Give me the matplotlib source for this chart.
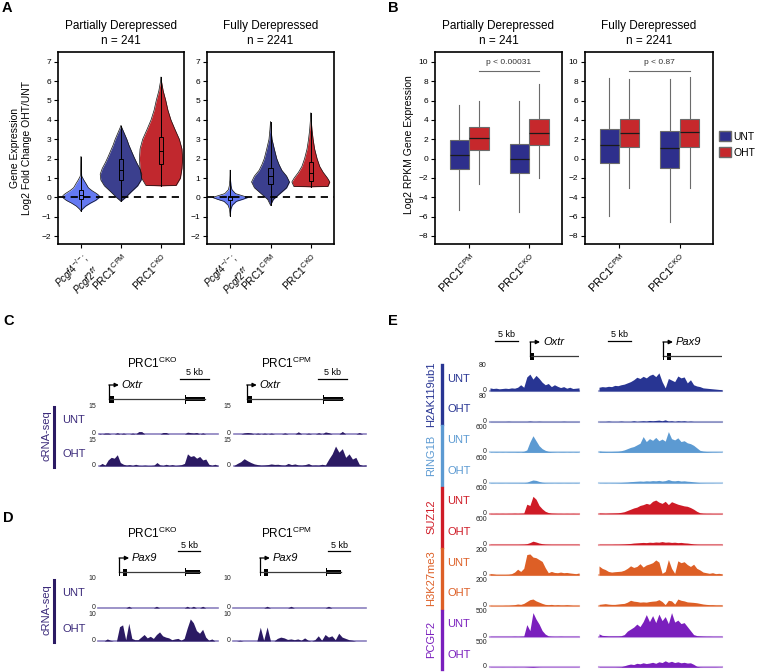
import numpy as np
import matplotlib
matplotlib.use("Agg")
import matplotlib.pyplot as plt
from matplotlib.patches import Rectangle, Patch

plt.rcParams["font.family"] = ["Liberation Sans", "DejaVu Sans"]
plt.rcParams["mathtext.fontset"] = "custom"
plt.rcParams["mathtext.rm"] = "Liberation Sans"
plt.rcParams["mathtext.it"] = "Liberation Sans:italic"
plt.rcParams["mathtext.default"] = "regular"

W, H = 757, 672

# --------------------------------------------------------------------------- #
# Panel A: violin profiles (y level, relative half width) and box stats
# --------------------------------------------------------------------------- #
A_LABELS = [r"$\it{Pcgf4}^{\it{-/-}}$;" + "\n" + r"$\it{Pcgf2}^{\it{f/f}}$", r"PRC1$^{CPM}$", r"PRC1$^{CKO}$"]
A_COLORS = ["#6479f2", "#3b3f8e", "#c1282e"]

PART_Y = [
    [-0.7, -0.6, -0.45, -0.3, -0.15, 0.0, 0.1, 0.2, 0.35, 0.5, 0.7, 0.9, 1.1, 1.4, 1.7, 2.1],
    [-0.2, 0.0, 0.3, 0.6, 0.9, 1.2, 1.5, 1.8, 2.1, 2.4, 2.7, 3.0, 3.3, 3.5, 3.7],
    [0.6, 0.62, 1.0, 1.5, 2.0, 2.5, 3.0, 3.5, 4.0, 4.5, 5.0, 5.5, 6.0, 6.2],
]
PART_W = [
    [0.0, 0.08, 0.25, 0.5, 0.8, 1.0, 0.98, 0.85, 0.6, 0.4, 0.28, 0.15, 0.04, 0.02, 0.015, 0.0],
    [0.0, 0.22, 0.5, 0.8, 0.97, 1.0, 0.9, 0.75, 0.62, 0.5, 0.38, 0.28, 0.16, 0.08, 0.0],
    [0.0, 0.7, 0.9, 0.97, 1.0, 0.97, 0.85, 0.65, 0.46, 0.32, 0.22, 0.1, 0.02, 0.0],
]
PART_MAXW = [0.46, 0.52, 0.54]
PART_BOX = [(-0.08, 0.12, 0.4), (0.9, 1.43, 1.98), (1.72, 2.41, 3.14)]

FULL_Y = [
    [-0.95, -0.6, -0.4, -0.2, -0.1, 0.0, 0.1, 0.2, 0.4, 0.6, 0.9, 1.4],
    [-0.4, -0.1, 0.2, 0.5, 0.8, 1.1, 1.4, 1.7, 2.0, 2.5, 3.0, 3.5, 3.9],
    [0.55, 0.57, 0.8, 1.0, 1.3, 1.6, 2.0, 2.5, 3.0, 3.5, 4.0, 4.35],
]
FULL_W = [
    [0.0, 0.04, 0.12, 0.35, 0.7, 1.0, 0.65, 0.3, 0.1, 0.05, 0.02, 0.0],
    [0.0, 0.15, 0.5, 0.85, 1.0, 0.85, 0.6, 0.45, 0.33, 0.2, 0.08, 0.03, 0.0],
    [0.0, 0.9, 1.0, 0.88, 0.65, 0.47, 0.33, 0.2, 0.12, 0.06, 0.02, 0.0],
]
FULL_MAXW = [0.44, 0.47, 0.47]
FULL_BOX = [(-0.14, 0.0, 0.09), (0.69, 1.1, 1.52), (0.86, 1.28, 1.84)]

# --------------------------------------------------------------------------- #
# Panel B: box stats (whislo, q1, median, q3, whishi) per category
# --------------------------------------------------------------------------- #
B_LABELS = [r"PRC1$^{CPM}$", r"PRC1$^{CKO}$"]
B_PART_UNT = [(-5.3, -1.1, 0.4, 1.9, 5.5), (-5.5, -1.5, -0.05, 1.5, 6.0)]
B_PART_OHT = [(-2.6, 0.85, 2.1, 3.25, 6.0), (-2.0, 1.45, 2.7, 4.05, 7.7)]
B_FULL_UNT = [(-5.9, -0.5, 1.45, 3.1, 8.35), (-6.6, -0.95, 1.1, 2.85, 8.25)]
B_FULL_OHT = [(-3.05, 1.2, 2.7, 4.1, 8.2), (-3.05, 1.2, 2.75, 4.1, 8.4)]
B_PVALS = ["p < 0.00031", "p < 0.87"]
UNT_COLOR, OHT_COLOR = "#2e2f8c", "#c6282c"

TITLES = ["Partially Derepressed\nn = 241", "Fully Derepressed\nn = 2241"]

# --------------------------------------------------------------------------- #
# Gene structures (kb from TSS): (start, end, drawn height)
# --------------------------------------------------------------------------- #
OXTR_EXONS = [(0.0, 0.9, 7), (13.1, 13.25, 9), (13.1, 16.6, 4)]
OXTR_LEN = 16.6
PAX9_EXONS = [(0.0, 0.2, 8), (0.9, 1.8, 7), (4.7, 4.85, 7), (15.0, 15.15, 8), (15.0, 18.4, 4)]
PAX9_LEN = 18.4

# --------------------------------------------------------------------------- #
# Panels C / D: cRNA-seq coverage
# --------------------------------------------------------------------------- #
CRNA_COLOR, CRNA_BASE = "#2b1a63", "#8b80bf"

C_UNT_CKO = [0.4, 0, 0.5, 0.5, 0, 0, 0.7, 0, 0.5, 0, 0, 0.5, 0, 1.3, 1.3, 0, 0, 0, 0, 0,
             0, 0.8, 0.8, 0, 0, 0, 0, 0, 0, 1.0, 0.7, 0.5, 0.8, 0, 0.6, 0, 0, 0, 0, 0]
C_OHT_CKO = [0.3, 1.5, 0.5, 3.5, 5, 4.5, 6.5, 2, 1, 0.5, 0.8, 0.3, 1.0, 0.4, 0.3, 0.5, 0.3, 0.3, 0.5, 2,
             0.6, 0.3, 1, 0.4, 0.8, 0.3, 0.5, 0.8, 1.5, 7, 5.5, 6, 4.5, 5.5, 3.5, 4, 1, 0.4, 1, 0.3]
C_UNT_CPM = [0, 0, 0, 0.6, 0.8, 0.6, 0, 0.5, 0, 0.5, 0, 0.5, 0, 0, 0, 0.6, 0, 0, 0, 1.2,
             0, 0, 0.5, 0, 0, 0.7, 0, 1.1, 0.7, 0, 0, 0, 1.4, 0, 0, 0, 0, 0.8, 0, 0]
C_OHT_CPM = [0.3, 1.5, 2.5, 4.2, 3, 2, 1.2, 0.8, 0.5, 0.6, 0.8, 1.2, 0.9, 1.0, 0.6, 0.5, 1.5, 0.8, 1.2, 0.6,
             0.5, 0.8, 1.4, 0.5, 0.6, 0.5, 1.0, 0.6, 4, 7, 11.5, 8, 10, 5, 7, 4, 5, 1, 0.4, 0.6]

D_UNT_CKO = [0, 0, 0, 0, 0, 0, 0, 0, 0, 0, 0.6, 0, 0, 0, 0, 0, 0, 0, 0, 0.6,
             0, 0, 0, 0, 0, 0, 0, 0, 0, 0.6, 0, 0.6, 0, 0, 0.6, 0, 0, 0, 0, 0]
D_OHT_CKO = [0, 0, 0, 0.8, 0.3, 0, 0, 5.5, 6.2, 0.5, 6.8, 1, 0.5, 0.5, 1.5, 2.5, 1.2, 1.8, 1, 2.5,
             3.5, 2, 1.5, 1.2, 0.5, 0.8, 1, 0.3, 1, 5, 8.5, 7, 4, 3, 4.5, 1.5, 0.3, 0.8, 0, 0]
D_UNT_CPM = [0, 0, 0, 0, 0, 0, 0, 0, 0, 0, 0.6, 0, 0, 0, 0, 0, 0, 0.6, 0, 0,
             0, 0, 0, 0, 0, 0, 0, 0, 0.6, 0, 0, 0, 0, 0, 0, 0, 0, 0, 0, 0]
D_OHT_CPM = [0, 0, 0.3, 0, 0, 0, 0, 0, 5.3, 0.3, 5.4, 0, 0, 1, 1.5, 1.2, 0.6, 0.8, 0.5, 0.8,
             0.3, 1.2, 0.3, 0, 0.5, 2, 0.3, 2.5, 1.5, 2, 0.5, 3, 1.5, 1, 0.5, 0.3, 0, 0, 0, 0]

# --------------------------------------------------------------------------- #
# Panel E: ChIP-seq coverage at Oxtr (30 bins) and Pax9 (40 bins)
# --------------------------------------------------------------------------- #
E_MARKS = ["H2AK119ub1", "RING1B", "SUZ12", "H3K27me3", "PCGF2"]
E_SCALES = [80, 600, 600, 200, 500]
E_COLORS = ["#283593", "#5c9ad2", "#cf1b26", "#dd5f26", "#7a1fbd"]

H2A_UNT_OXTR = [10, 8, 9, 7, 8, 9, 8, 10, 9, 12, 20, 12, 45, 54, 38, 50, 40, 28, 20, 24,
                14, 20, 15, 11, 14, 9, 12, 8, 9, 10]
H2A_UNT_PAX9 = [12, 14, 13, 15, 14, 18, 17, 20, 22, 26, 30, 36, 44, 40, 47, 42, 50, 54, 46, 58,
                30, 10, 40, 35, 30, 48, 42, 45, 26, 36, 20, 16, 14, 10, 9, 8, 7, 6, 5, 4]
H2A_OHT_OXTR = [1, 1, 1, 1, 1, 1, 1.5, 1, 1, 1, 1, 1, 1, 2, 1, 1, 1.5, 1, 1, 1,
                1, 1, 1, 1, 1.5, 1, 1, 1, 1, 1]
H2A_OHT_PAX9 = [1, 1, 1, 2, 1, 1, 1, 2, 1, 1, 1, 3, 1, 2, 3, 2, 4, 3, 4, 5,
                3, 6, 2, 3, 1, 3, 2, 3, 1, 2, 1, 1, 1, 1, 1, 1, 1, 1, 1, 1]

RING_UNT_OXTR = [15, 12, 15, 12, 15, 12, 15, 15, 15, 18, 15, 25, 60, 250, 400, 280, 160, 90, 50, 25,
                 18, 15, 12, 15, 15, 12, 15, 12, 15, 12]
RING_UNT_PAX9 = [35, 25, 22, 20, 22, 25, 28, 40, 60, 90, 120, 140, 180, 220, 380, 260, 330, 290, 360, 280,
                 320, 270, 500, 330, 300, 350, 260, 280, 230, 210, 170, 110, 50, 30, 22, 18, 15, 15, 12, 12]
RING_OHT_OXTR = [10, 10, 8, 10, 10, 8, 10, 10, 10, 10, 12, 12, 20, 50, 75, 65, 40, 20, 12, 10,
                 10, 8, 10, 10, 8, 10, 10, 8, 10, 8]
RING_OHT_PAX9 = [8, 8, 10, 8, 10, 10, 12, 15, 20, 25, 35, 40, 45, 50, 45, 55, 50, 60, 55, 65,
                 50, 60, 85, 60, 55, 65, 50, 55, 45, 40, 30, 20, 12, 10, 8, 8, 8, 6, 6, 6]

SUZ_UNT_OXTR = [12, 10, 12, 10, 12, 10, 12, 12, 15, 12, 15, 18, 230, 200, 420, 350, 200, 120, 60, 30,
                18, 15, 12, 12, 10, 12, 10, 12, 10, 10]
SUZ_UNT_PAX9 = [20, 18, 15, 18, 20, 22, 25, 35, 50, 80, 110, 140, 160, 200, 220, 250, 230, 300, 330, 280,
                250, 300, 220, 290, 260, 230, 210, 190, 180, 150, 110, 60, 25, 15, 12, 12, 10, 10, 10, 10]
SUZ_OHT_OXTR = [8, 8, 8, 8, 8, 8, 8, 8, 8, 8, 10, 12, 20, 45, 80, 60, 35, 20, 12, 10,
                8, 8, 8, 8, 8, 8, 8, 8, 8, 8]
SUZ_OHT_PAX9 = [8, 8, 8, 8, 8, 10, 10, 12, 15, 20, 25, 35, 40, 45, 50, 45, 55, 50, 60, 55,
                70, 55, 60, 50, 55, 45, 50, 40, 35, 25, 15, 10, 8, 8, 8, 8, 8, 8, 8, 8]

K27_UNT_OXTR = [13, 10, 6, 6, 6, 6, 7, 12, 25, 48, 30, 55, 165, 170, 145, 140, 125, 110, 60, 20,
                30, 22, 20, 25, 20, 22, 18, 15, 12, 18]
K27_UNT_PAX9 = [74, 55, 45, 30, 25, 28, 30, 32, 40, 55, 75, 62, 70, 92, 65, 82, 90, 100, 122, 105,
                15, 30, 125, 55, 15, 115, 100, 108, 85, 70, 88, 55, 42, 25, 20, 15, 20, 12, 15, 10]
K27_OHT_OXTR = [6, 5, 5, 5, 5, 6, 6, 8, 10, 15, 12, 20, 35, 50, 55, 40, 30, 20, 12, 10,
                12, 8, 10, 8, 8, 10, 8, 6, 6, 6]
K27_OHT_PAX9 = [12, 15, 18, 14, 12, 12, 15, 18, 20, 30, 45, 38, 35, 30, 32, 30, 35, 38, 40, 50,
                35, 10, 45, 40, 15, 55, 45, 40, 32, 30, 28, 25, 20, 15, 12, 10, 10, 8, 8, 8]

PCGF_UNT_OXTR = [8, 8, 8, 8, 8, 8, 8, 8, 10, 8, 10, 12, 240, 120, 480, 350, 250, 120, 50, 15,
                 10, 8, 8, 10, 8, 8, 8, 8, 8, 8]
PCGF_UNT_PAX9 = [55, 25, 20, 15, 15, 15, 15, 18, 40, 110, 150, 190, 250, 200, 300, 440, 300, 420, 280, 450,
                 320, 400, 260, 480, 290, 330, 260, 280, 200, 120, 40, 20, 15, 12, 10, 10, 8, 8, 8, 8]
PCGF_OHT_OXTR = [5, 5, 5, 5, 6, 5, 5, 5, 6, 5, 5, 5, 8, 12, 15, 10, 6, 5, 5, 5,
                 5, 5, 5, 5, 5, 5, 5, 5, 5, 5]
PCGF_OHT_PAX9 = [8, 8, 8, 8, 8, 8, 10, 12, 30, 50, 65, 55, 80, 70, 90, 75, 85, 100, 80, 110,
                 95, 130, 100, 120, 95, 110, 90, 100, 85, 90, 60, 20, 10, 8, 8, 8, 8, 8, 6, 6]

E_TRACKS = [
    (H2A_UNT_OXTR, H2A_UNT_PAX9, H2A_OHT_OXTR, H2A_OHT_PAX9),
    (RING_UNT_OXTR, RING_UNT_PAX9, RING_OHT_OXTR, RING_OHT_PAX9),
    (SUZ_UNT_OXTR, SUZ_UNT_PAX9, SUZ_OHT_OXTR, SUZ_OHT_PAX9),
    (K27_UNT_OXTR, K27_UNT_PAX9, K27_OHT_OXTR, K27_OHT_PAX9),
    (PCGF_UNT_OXTR, PCGF_UNT_PAX9, PCGF_OHT_OXTR, PCGF_OHT_PAX9),
]

# --------------------------------------------------------------------------- #
# Helpers
# --------------------------------------------------------------------------- #
fig = plt.figure(figsize=(W / 100, H / 100), dpi=100)


def px_axes(x0, y0, x1, y1):
    return fig.add_axes([x0 / W, 1 - y1 / H, (x1 - x0) / W, (y1 - y0) / H])


def ftext(x, y, s, **kw):
    return fig.text(x / W, 1 - y / H, s, **kw)


def style_box_axes(ax):
    for sp in ax.spines.values():
        sp.set_linewidth(1.2)
    ax.tick_params(direction="out", length=3, width=0.8, labelsize=6, pad=2)
    ax.tick_params(axis="x", labelsize=8)


def set_titles(ax, title):
    ax.set_title(title, fontsize=8.5, pad=6, linespacing=1.35)


def violin_panel(ax, ys_list, ws_list, maxw, boxes, title):
    for i, (ys, ws) in enumerate(zip(ys_list, ws_list)):
        ys = np.asarray(ys, float)
        half = np.asarray(ws, float) * maxw[i]
        ax.fill_betweenx(ys, i - half, i + half, color=A_COLORS[i], lw=0, zorder=2)
        ax.plot(i - half, ys, color="#111111", lw=0.5, zorder=3)
        ax.plot(i + half, ys, color="#111111", lw=0.5, zorder=3)
        ax.plot([i, i], [ys[0], ys[-1]], color="black", lw=0.7, zorder=3)
        q1, med, q3 = boxes[i]
        ax.add_patch(Rectangle((i - 0.055, q1), 0.11, q3 - q1, facecolor=A_COLORS[i],
                               edgecolor="black", lw=0.7, zorder=4))
        ax.plot([i - 0.055, i + 0.055], [med, med], color="black", lw=0.7, zorder=4)
    ax.axhline(0, color="black", ls=(0, (4, 3)), lw=1.3, zorder=5)
    ax.set_xlim(-0.575, 2.575)
    ax.set_ylim(-2.4, 7.5)
    ax.set_yticks(range(-2, 8))
    ax.set_xticks(range(3))
    ax.set_xticklabels(A_LABELS, rotation=45, ha="right", rotation_mode="anchor")
    style_box_axes(ax)
    ax.tick_params(axis="x", labelsize=7.5)
    ax.get_xticklabels()[0].set_fontsize(7)
    set_titles(ax, title)


def box_panel(ax, unt, oht, title, ptext):
    stats, pos, cols = [], [], []
    for i in range(2):
        for vals, off, col in [(unt[i], -0.165, UNT_COLOR), (oht[i], 0.165, OHT_COLOR)]:
            lo, q1, med, q3, hi = vals
            stats.append({"whislo": lo, "q1": q1, "med": med, "q3": q3, "whishi": hi, "fliers": []})
            pos.append(i + off)
            cols.append(col)
    bp = ax.bxp(stats, positions=pos, widths=0.32, patch_artist=True, showcaps=False,
                showfliers=False,
                boxprops=dict(edgecolor="#6b6b6b", lw=0.8),
                whiskerprops=dict(color="#6b6b6b", lw=0.8),
                medianprops=dict(color="#1a1a1a", lw=0.9))
    for patch, col in zip(bp["boxes"], cols):
        patch.set_facecolor(col)
    ax.plot([0.165, 1.165], [9.1, 9.1], color="#6b6b6b", lw=0.8)
    ax.text(0.665, 9.95, ptext, ha="center", va="center", fontsize=6, color="#333333")
    ax.set_xlim(-0.567, 1.55)
    ax.set_ylim(-8.83, 11.03)
    ax.set_yticks(range(-8, 11, 2))
    ax.set_xticks(range(2))
    ax.set_xticklabels(B_LABELS, rotation=45, ha="right", rotation_mode="anchor")
    style_box_axes(ax)
    set_titles(ax, title)


def draw_track(x0, x1, top, base, values, vmax, color, base_color, label_x=None,
               lw=1.2, base_alpha=1.0):
    ax = px_axes(x0, top, x1, base)
    x = np.arange(len(values))
    ax.axhline(0, color=base_color, lw=lw, alpha=base_alpha, clip_on=False, zorder=1)
    ax.fill_between(x, 0, values, color=color, lw=0, zorder=2)
    ax.set_xlim(0, len(values) - 1)
    ax.set_ylim(0, vmax)
    ax.axis("off")
    if label_x is not None:
        ftext(label_x, top, f"{vmax:g}", ha="right", va="center", fontsize=5, color="#222222")
        ftext(label_x, base - 0.5, "0", ha="right", va="center", fontsize=5, color="#222222")


def draw_gene(x0, x1, y0, y1, px_per_kb, tss, exons, glen, name, bar_kb, gene_y, arrow_y, bar_y):
    ax = px_axes(x0, y0, x1, y1)
    ax.set_xlim(0, (x1 - x0) / px_per_kb)
    ax.set_ylim(y1 - y0, 0)
    ax.axis("off")
    ax.plot([tss, tss + glen], [gene_y, gene_y], color="#3a3a3a", lw=0.9)
    for s, e, h in exons:
        ax.add_patch(Rectangle((tss + s, gene_y - h / 2), e - s, h, color="black", lw=0))
    ax.plot([tss, tss], [gene_y, arrow_y], color="black", lw=0.9)
    ax.annotate("", xy=(tss + 10 / px_per_kb, arrow_y), xytext=(tss, arrow_y),
                arrowprops=dict(arrowstyle="-|>", color="black", lw=0.9, mutation_scale=6,
                                shrinkA=0, shrinkB=0))
    ax.text(tss + 13 / px_per_kb, arrow_y, name, style="italic", fontsize=8, va="center", ha="left")
    ax.plot([bar_kb, bar_kb + 5], [bar_y, bar_y], color="black", lw=0.9)
    ax.text(bar_kb + 2.5, bar_y - 1.5, "5 kb", ha="center", va="bottom", fontsize=6.5)


# --------------------------------------------------------------------------- #
# A
# --------------------------------------------------------------------------- #
axA1 = px_axes(58, 52, 184, 244)
violin_panel(axA1, PART_Y, PART_W, PART_MAXW, PART_BOX, TITLES[0])
axA2 = px_axes(207, 52, 334, 244)
violin_panel(axA2, FULL_Y, FULL_W, FULL_MAXW, FULL_BOX, TITLES[1])
ftext(21, 148, "Gene Expression\nLog2 Fold Change OHT/UNT", rotation=90, ha="center",
      va="center", fontsize=7.5, linespacing=1.15)

# --------------------------------------------------------------------------- #
# B
# --------------------------------------------------------------------------- #
axB1 = px_axes(435, 52, 562, 244)
box_panel(axB1, B_PART_UNT, B_PART_OHT, TITLES[0], B_PVALS[0])
axB2 = px_axes(585, 52, 713, 244)
box_panel(axB2, B_FULL_UNT, B_FULL_OHT, TITLES[1], B_PVALS[1])
ftext(409, 145, "Log2 RPKM Gene Expression", rotation=90, ha="center", va="center", fontsize=7.5)
fig.legend(handles=[Patch(facecolor=UNT_COLOR, edgecolor="#6b6b6b", label="UNT"),
                    Patch(facecolor=OHT_COLOR, edgecolor="#6b6b6b", label="OHT")],
           loc="upper left", bbox_to_anchor=(719 / W, 1 - 131 / H), frameon=False,
           fontsize=7.5, handlelength=1.15, handleheight=1.15, handletextpad=0.2,
           labelspacing=0.5, borderpad=0, borderaxespad=0)


# --------------------------------------------------------------------------- #
# C and D
# --------------------------------------------------------------------------- #
def crna_panel(title_y, track_rows, gene_box, gene_args, data, scale, left_xy, right_xy):
    (t1, b1), (t2, b2) = track_rows
    gy0, gy1, ppk, exons, glen, name, g_y, a_y, b_y = gene_box
    for (x0, x1), lab_x, title_x, (tss, bar_kb), (unt, oht), title in zip(
            [left_xy, right_xy], [96, 231], [152, 287], gene_args, data,
            [r"PRC1$^{CKO}$", r"PRC1$^{CPM}$"]):
        ftext(title_x, title_y, title, ha="center", va="center", fontsize=8.5)
        draw_gene(x0, x1, gy0, gy1, ppk, tss, exons, glen, name, bar_kb, g_y, a_y, b_y)
        draw_track(x0, x1, t1, b1, unt, scale, CRNA_COLOR, CRNA_BASE, lab_x)
        draw_track(x0, x1, t2, b2, oht, scale, CRNA_COLOR, CRNA_BASE, lab_x)
    fig.add_artist(plt.Line2D([54 / W, 54 / W], [1 - (t1 + 1) / H, 1 - (b2 + 1) / H],
                              color=CRNA_COLOR, lw=2.2))
    ftext(46, (t1 + b2) / 2, "cRNA-seq", rotation=90, ha="center", va="center",
          fontsize=8, color="#3b2a7a")
    ftext(62, (t1 + b1) / 2, "UNT", ha="left", va="center", fontsize=8, color="#3b2a7a")
    ftext(62, (t2 + b2) / 2 + 1, "OHT", ha="left", va="center", fontsize=8, color="#3b2a7a")


crna_panel(363, [(406, 434), (440, 466)],
           (366, 405, 5.8, OXTR_EXONS, OXTR_LEN, "Oxtr", 33, 19, 13),
           [(1.7, 14.0), (2.2, 14.5)],
           [(C_UNT_CKO, C_OHT_CKO), (C_UNT_CPM, C_OHT_CPM)], 15, (99, 218), (234, 366))

crna_panel(533, [(579, 608), (615, 641)],
           (537, 578, 4.4, PAX9_EXONS, PAX9_LEN, "Pax9", 35, 21, 14),
           [(4.8, 18.2), (6.1, 21.6)],
           [(D_UNT_CKO, D_OHT_CKO), (D_UNT_CPM, D_OHT_CPM)], 10, (98, 218), (233, 366))

# --------------------------------------------------------------------------- #
# E
# --------------------------------------------------------------------------- #
draw_gene(490, 579, 325, 362, 4.6, 8.7, OXTR_EXONS, OXTR_LEN, "Oxtr", 1.1, 31, 17, 16)
draw_gene(599, 722, 325, 362, 4.6, 13.9, PAX9_EXONS, PAX9_LEN, "Pax9", 2.0, 31, 17, 16)

for m, (mark, scale, col, tracks) in enumerate(zip(E_MARKS, E_SCALES, E_COLORS, E_TRACKS)):
    unt_l, unt_r, oht_l, oht_r = tracks
    rows = []
    for k, (left, right, cond) in enumerate([(unt_l, unt_r, "UNT"), (oht_l, oht_r, "OHT")]):
        top = 366 + 30.7 * (2 * m + k)
        base = top + 25
        rows.append((top, base))
        draw_track(490, 579, top, base, left, scale, col, col, 487, lw=1.5, base_alpha=0.4)
        draw_track(599, 722, top, base, right, scale, col, col, None, lw=1.5, base_alpha=0.4)
        ftext(447, (top + base) / 2, cond, ha="left", va="center", fontsize=8, color=col)
    t0, b1 = rows[0][0], rows[1][1]
    fig.add_artist(plt.Line2D([442 / W, 442 / W], [1 - (t0 - 1) / H, 1 - (b1 + 2) / H],
                              color=col, lw=2.4))
    ftext(431, (t0 + b1) / 2, mark, rotation=90, ha="center", va="center", fontsize=8, color=col)

# --------------------------------------------------------------------------- #
# Panel letters
# --------------------------------------------------------------------------- #
for letter, x, y in [("A", 2, 8), ("B", 388, 8), ("C", 3, 321), ("D", 3, 518), ("E", 388, 321)]:
    ftext(x, y, letter, fontsize=10.5, fontweight="bold", ha="left", va="center")

fig.savefig("out.png", dpi=100)
